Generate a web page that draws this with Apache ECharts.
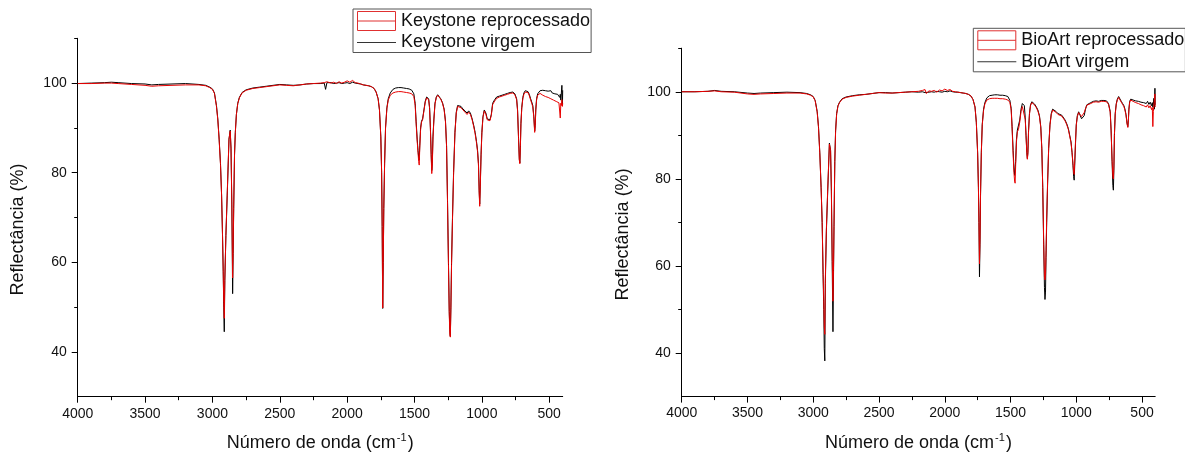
<!DOCTYPE html>
<html>
<head>
<meta charset="utf-8">
<script src="https://cdn.jsdelivr.net/npm/echarts@6/dist/echarts.min.js"></script>
<style>
html,body{margin:0;padding:0;background:#fff;}
#chart{width:1185px;height:456px;}
</style>
</head>
<body>
<div id="chart"></div>
<script>
// ---- Data ----
const waveNumbers = [
 4000,3900,3800,3750,3700,3600,3500,3450,3400,3300,
 3200,3100,3050,3020,3000,2985,2970,2960,2950,2940,
 2932,2925,2920,2916,2912,2908,2900,2890,2877,2868,
 2862,2856,2850,2846,2842,2836,2830,2822,2812,2800,
 2780,2750,2700,2650,2600,2550,2500,2450,2400,2350,
 2300,2250,2200,2170,2160,2150,2140,2120,2100,2080,
 2060,2040,2020,2000,1980,1960,1940,1920,1900,1880,
 1860,1840,1820,1800,1785,1770,1760,1750,1744,1740,
 1736,1732,1728,1722,1715,1705,1695,1680,1660,1640,
 1620,1600,1580,1560,1540,1520,1505,1495,1488,1480,
 1474,1469,1465,1461,1455,1448,1440,1430,1420,1410,
 1402,1395,1388,1382,1376,1372,1368,1363,1356,1348,
 1338,1328,1318,1305,1292,1280,1270,1262,1255,1248,
 1242,1238,1234,1230,1225,1218,1210,1200,1190,1180,
 1168,1155,1140,1125,1110,1098,1085,1072,1060,1050,
 1040,1032,1025,1020,1016,1012,1006,1000,992,982,
 970,960,950,940,930,920,905,890,870,850,
 830,810,790,770,755,742,735,728,722,718,
 714,710,704,696,688,678,668,658,648,638,
 630,622,614,608,604,600,594,586,578,568,
 558,548,538,528,518,508,498,488,478,468,
 458,448,438,428,422,418,414,410,406,402,
 400
];

const keystoneVirgem = [
 99.9,100.0,100.1,100.2,100.1,99.9,99.8,99.6,99.7,99.8,
 99.9,99.7,99.5,99.1,98.7,97.8,95.0,92.0,87.5,82.0,
 75.0,66.0,58.0,50.0,44.5,56.0,66.0,75.0,87.5,89.5,
 85.5,73.0,53.0,62.0,72.0,84.0,89.0,93.0,95.5,96.8,
 97.9,98.5,98.9,99.1,99.3,99.5,99.7,99.6,99.5,99.6,
 99.8,99.9,99.9,100.0,98.6,100.1,99.9,100.1,99.9,100.0,
 100.1,99.9,100.0,100.1,99.9,100.2,100.0,99.9,99.8,99.6,
 99.5,99.4,99.2,98.8,98.0,96.5,94.0,88.0,80.0,68.0,
 49.7,60.0,72.0,82.0,90.0,94.5,96.5,97.8,98.6,98.9,
 99.0,99.0,98.9,98.8,98.7,98.4,97.6,95.5,91.5,87.5,
 85.0,83.5,82.8,86.0,90.0,91.5,92.0,94.0,96.0,96.9,
 97.3,96.5,94.5,90.0,84.0,80.5,82.0,88.0,92.0,95.5,
 96.9,97.4,97.2,96.5,95.6,94.2,91.5,86.0,74.0,60.0,
 49.0,45.0,43.5,50.0,60.0,70.0,80.0,89.0,93.5,95.0,
 95.3,94.8,94.2,93.8,93.3,93.8,93.3,92.0,90.5,89.0,
 87.0,85.0,82.0,76.0,73.0,77.0,84.0,89.0,92.5,94.0,
 93.3,92.0,91.6,91.8,93.0,95.5,96.3,96.9,97.1,97.3,
 97.5,97.7,97.9,98.0,97.6,96.5,94.0,88.0,83.0,82.2,
 86.0,91.0,94.5,96.8,97.8,98.3,98.5,98.1,97.5,96.5,
 95.8,95.0,92.5,89.3,90.5,94.0,96.5,97.6,98.0,98.3,
 98.2,98.4,98.1,98.3,98.0,98.2,97.9,98.3,97.8,98.1,
 97.6,98.0,97.5,97.9,96.8,97.5,96.2,97.8,99.5,95.0,
 98.4
];

const keystoneReprocessado = [
 99.9,99.9,100.0,100.0,99.9,99.7,99.5,99.3,99.4,99.5,
 99.6,99.6,99.4,99.0,98.6,97.7,94.8,91.8,87.2,81.8,
 75.0,66.0,58.5,51.0,47.5,56.0,66.0,75.5,87.5,89.3,
 85.5,73.5,56.5,63.0,72.5,84.0,89.0,93.0,95.4,96.7,
 97.8,98.4,98.8,99.0,99.2,99.4,99.6,99.5,99.4,99.6,
 99.8,99.9,100.0,100.1,99.8,100.3,100.4,100.0,100.2,99.9,
 100.3,100.0,100.2,100.5,100.2,100.6,100.1,100.0,99.8,99.6,
 99.5,99.4,99.2,98.8,98.0,96.5,94.0,88.0,80.0,68.0,
 49.8,60.0,72.0,82.0,90.0,94.3,96.2,97.3,97.8,98.0,
 98.1,98.1,98.0,97.9,97.8,97.6,97.0,95.0,91.0,87.0,
 84.5,82.5,81.7,85.5,89.5,91.3,91.8,93.8,95.8,96.7,
 97.1,96.3,94.3,89.8,83.5,79.8,81.5,87.5,91.8,95.3,
 96.8,97.3,97.1,96.4,95.5,94.0,91.3,85.8,73.5,59.5,
 48.5,44.0,43.3,49.5,59.5,69.5,79.5,88.8,93.3,94.8,
 95.1,94.5,94.0,93.5,93.0,93.5,93.0,91.8,90.2,88.7,
 86.7,84.7,81.5,75.5,72.5,76.5,83.8,88.8,92.3,93.8,
 93.0,91.8,91.4,91.6,92.8,95.2,96.0,96.6,96.9,97.1,
 97.3,97.5,97.7,97.8,97.4,96.3,93.8,87.8,82.8,82.0,
 85.8,90.8,94.3,96.5,97.5,98.0,98.3,97.9,97.2,96.2,
 95.5,94.7,92.2,89.0,90.3,93.8,96.2,97.3,97.7,97.7,
 97.5,97.3,97.4,97.0,97.1,96.8,96.9,96.5,96.6,96.2,
 96.4,95.9,96.2,95.6,95.5,92.2,95.5,95.0,96.3,94.8,
 95.5
];

const bioArtVirgem = [
 100.0,100.0,100.1,100.3,100.1,100.0,99.7,99.6,99.7,99.8,
 99.9,99.8,99.6,99.3,98.9,98.0,95.5,92.0,86.0,78.0,
 70.0,58.0,50.0,41.0,38.2,56.0,68.0,77.0,88.2,86.5,
 77.0,61.0,44.9,57.0,69.0,84.0,91.0,95.0,96.8,97.6,
 98.4,98.8,99.1,99.3,99.4,99.6,99.8,99.8,99.7,99.8,
 99.9,100.0,99.9,100.0,99.7,99.8,100.1,99.9,100.0,99.9,
 100.1,100.0,99.9,100.1,100.0,100.2,100.0,99.9,99.9,99.8,
 99.7,99.6,99.4,99.0,98.2,96.5,93.0,86.0,78.0,70.0,
 57.5,65.0,76.0,86.0,92.5,96.0,97.5,98.6,99.1,99.2,
 99.3,99.3,99.2,99.2,99.1,98.9,98.0,96.2,92.0,86.5,
 82.5,80.8,80.5,84.0,89.0,91.2,91.5,93.5,96.0,97.3,
 97.5,96.8,94.0,90.0,86.0,84.7,86.0,91.0,95.0,97.0,
 97.7,97.6,97.2,96.6,95.8,94.5,92.0,87.0,78.0,65.0,
 55.0,52.3,54.0,62.0,70.0,79.0,87.0,92.5,95.0,96.0,
 96.2,95.5,95.0,95.3,94.6,94.2,93.5,92.6,91.5,90.0,
 88.5,86.0,83.0,80.5,79.7,83.0,88.0,92.5,94.5,95.4,
 95.0,93.8,94.0,94.5,96.0,97.0,97.3,97.5,97.8,97.9,
 97.8,98.0,98.0,97.9,97.3,95.5,91.0,84.0,78.5,77.4,
 82.0,90.0,95.0,97.3,98.3,98.9,98.6,97.8,97.3,96.8,
 96.0,94.8,92.8,92.0,93.5,96.0,97.8,98.3,98.2,98.1,
 98.3,97.9,98.2,97.8,98.1,97.6,98.0,97.5,97.9,97.3,
 97.8,97.1,97.6,96.8,97.5,96.5,97.2,98.5,96.0,100.8,
 97.0
];

const bioArtReprocessado = [
 100.0,100.0,100.1,100.2,100.0,99.9,99.5,99.4,99.5,99.6,
 99.7,99.7,99.5,99.2,98.8,97.9,95.3,91.8,85.8,77.8,
 70.0,58.5,52.0,46.0,44.3,57.0,68.5,77.5,88.0,86.5,
 77.5,63.0,51.9,59.0,69.5,84.0,90.8,94.8,96.7,97.5,
 98.3,98.7,99.0,99.2,99.4,99.6,99.8,99.7,99.7,99.8,
 99.9,100.0,100.1,100.3,99.9,100.5,99.6,100.2,100.1,100.3,
 99.9,100.4,100.2,100.6,100.3,100.5,100.1,100.0,99.9,99.8,
 99.7,99.6,99.4,99.0,98.2,96.5,93.0,86.0,78.0,70.0,
 60.5,66.0,76.5,86.0,92.3,95.7,97.2,98.1,98.4,98.5,
 98.5,98.5,98.4,98.4,98.3,98.1,97.6,95.8,91.5,85.5,
 81.5,79.5,79.0,83.0,88.5,90.8,91.3,93.0,95.5,96.6,
 96.8,96.2,93.6,89.8,85.8,84.5,85.8,90.8,94.8,96.8,
 97.5,97.4,97.0,96.4,95.6,94.3,91.8,86.8,78.0,66.0,
 57.5,56.8,58.0,63.5,71.0,79.5,87.0,92.3,94.8,95.8,
 96.0,95.3,94.8,95.1,94.4,94.0,93.3,92.4,91.3,89.8,
 88.3,86.0,83.5,81.5,81.0,84.0,88.5,92.3,94.3,95.2,
 94.9,94.3,94.5,95.2,96.1,96.9,97.1,97.3,97.6,97.7,
 97.6,97.8,97.8,97.7,97.1,95.3,91.0,84.5,80.5,80.0,
 83.0,90.2,94.8,97.1,98.1,98.7,98.4,97.6,97.1,96.6,
 95.8,94.6,92.6,91.8,93.3,95.8,97.6,98.1,98.0,97.8,
 97.9,97.5,97.8,97.3,97.6,97.0,97.4,96.8,97.2,96.5,
 97.0,96.3,96.8,95.9,96.4,92.0,95.5,96.8,97.0,99.5,
 96.5
];

const xMajorTicks = [4000,3500,3000,2500,2000,1500,1000,500];
const xMinorTicks = [3750,3250,2750,2250,1750,1250,750];
const yMajorTicks = [40,60,80,100];
const yMinorTicks = [50,70,90,110];

// ---- Chart ----
const FONT = '"Liberation Sans", Arial, Helvetica, sans-serif';
const TXT = '#111';
const RED = '#e80000';

function pairs(xs, ys){ return xs.map((x,i)=>[x, ys[i]]); }
const plain = v => String(v);

function xAxes(gi){
  return [{
    type:'value', gridIndex:gi, position:'bottom', inverse:true, min:400, max:4000,
    axisLine:{show:true, onZero:false, lineStyle:{color:'#000', width:1}},
    axisTick:{show:true, inside:false, length:6, customValues:xMajorTicks, lineStyle:{color:'#000', width:1}},
    axisLabel:{show:true, customValues:xMajorTicks, formatter:plain, margin:10, fontSize:14, color:TXT, fontFamily:FONT},
    splitLine:{show:false},
    name:'{a|Número de onda (cm}{s|-1}{a|)}', nameLocation:'middle', nameGap:36,
    nameTextStyle:{rich:{
      a:{fontSize:18, fontFamily:FONT, color:TXT, lineHeight:21},
      s:{fontSize:11, fontFamily:FONT, color:TXT, verticalAlign:'top', lineHeight:12, padding:[0,1,0,1]}
    }}
  },{
    type:'value', gridIndex:gi, position:'bottom', inverse:true, min:400, max:4000,
    axisLine:{show:false, onZero:false},
    axisTick:{show:true, inside:false, length:3.5, customValues:xMinorTicks, lineStyle:{color:'#000', width:1}},
    axisLabel:{show:false}, splitLine:{show:false}
  }];
}
function yAxes(gi, gap){
  return [{
    type:'value', gridIndex:gi, position:'left', min:30, max:110,
    axisLine:{show:true, onZero:false, lineStyle:{color:'#000', width:1}},
    axisTick:{show:true, inside:false, length:6, customValues:yMajorTicks, lineStyle:{color:'#000', width:1}},
    axisLabel:{show:true, customValues:yMajorTicks, formatter:plain, margin:11, fontSize:14, color:TXT, fontFamily:FONT},
    splitLine:{show:false},
    name:'Reflectância (%)', nameLocation:'middle', nameGap:gap,
    nameTextStyle:{fontSize:18, fontFamily:FONT, color:TXT, padding:[0,24,0,0]}
  },{
    type:'value', gridIndex:gi, position:'left', min:30, max:110,
    axisLine:{show:false, onZero:false},
    axisTick:{show:true, inside:false, length:3.5, customValues:yMinorTicks, lineStyle:{color:'#000', width:1}},
    axisLabel:{show:false}, splitLine:{show:false}
  }];
}

function legendFor(repName, virName, left, top){
  return {
    orient:'vertical', left:left, top:top, selectedMode:false,
    backgroundColor:'#fff', borderColor:'#555', borderWidth:1,
    padding:[2,1,1,4], itemGap:2.5, itemWidth:39, itemHeight:19,
    textStyle:{fontSize:18, color:TXT, fontFamily:FONT},
    data:[
      {name:repName, icon:'path://M0,0 L40,0 L40,20 L0,20 Z M0,10 L40,10',
       itemStyle:{color:'rgba(0,0,0,0)', borderColor:'#e03030', borderWidth:1}},
      {name:virName, icon:'path://M0,9.5 L40,9.5 L40,10.5 L0,10.5 Z',
       itemStyle:{color:'#333', borderWidth:0}}
    ]
  };
}

function lineSeries(name, xi, ys, color, z){
  return {
    type:'line', name:name, xAxisIndex:xi, yAxisIndex:xi,
    data:pairs(waveNumbers, ys), symbol:'none', showSymbol:false,
    lineStyle:{color:color, width:1}, itemStyle:{color:color},
    z:z, animation:false, silent:true
  };
}

const chart = echarts.init(document.getElementById('chart'), null, {renderer:'canvas'});
chart.setOption({
  backgroundColor:'#fff',
  animation:false,
  grid:[
    {left:77.7, top:38.3, width:485, height:358.4, containLabel:false, outerBoundsMode:'none'},
    {left:681.7, top:48.2, width:473.5, height:348.4, containLabel:false, outerBoundsMode:'none'}
  ],
  xAxis:[...xAxes(0), ...xAxes(1)],
  yAxis:[...yAxes(0, 51), ...yAxes(1, 49.5)],
  legend:[
    legendFor('Keystone reprocessado','Keystone virgem',353,9),
    legendFor('BioArt reprocessado','BioArt virgem',973.3,28.3)
  ],
  series:[
    lineSeries('Keystone virgem', 0, keystoneVirgem, '#000', 2),
    lineSeries('Keystone reprocessado', 0, keystoneReprocessado, RED, 3),
    lineSeries('BioArt virgem', 2, bioArtVirgem, '#000', 2),
    lineSeries('BioArt reprocessado', 2, bioArtReprocessado, RED, 3)
  ]
});
</script>
</body>
</html>
